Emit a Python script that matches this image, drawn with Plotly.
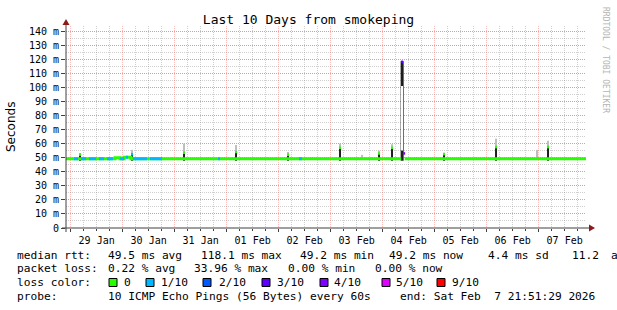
import plotly.graph_objects as go

START = "2026-01-28 21:51:29"
END = "2026-02-07 21:51:29"

# ---------------- data ----------------
# median rtt (ms) baseline, step line; None = no data
median_times = [START, "2026-01-29 20:30", "2026-01-29 22:50", "2026-01-30 00:40",
                "2026-01-30 03:50", "2026-02-04 08:35", "2026-02-04 08:36",
                "2026-02-04 10:10", END]
median_vals = [49.2, 50.0, 49.2, 50.3, 49.2, 49.2, None, 49.2, 49.2]

# stretches where the median was drawn with 1/10 loss colour
blue_starts = ["2026-01-29 01:33", "2026-01-29 04:46", "2026-01-29 08:28", "2026-01-29 13:05",
               "2026-01-29 16:46", "2026-01-29 22:50", "2026-01-30 01:30", "2026-01-30 04:46",
               "2026-01-30 12:37", "2026-01-31 20:00", "2026-02-02 09:23"]
blue_ends = ["2026-01-29 03:24", "2026-01-29 07:05", "2026-01-29 11:42", "2026-01-29 15:23",
             "2026-01-29 19:32", "2026-01-30 00:40", "2026-01-30 02:30", "2026-01-30 11:14",
             "2026-01-30 18:09", "2026-01-31 20:55", "2026-02-02 10:46"]
blue_vals = [49.2, 49.2, 49.2, 49.2, 49.2, 49.2, 50.3, 49.2, 49.2, 49.2, 49.2]

# smoke spikes
spike_times = ["2026-01-29 04:20", "2026-01-30 04:20", "2026-01-31 04:20", "2026-02-01 04:20",
               "2026-02-02 04:20", "2026-02-03 04:20", "2026-02-03 14:30", "2026-02-03 22:20",
               "2026-02-04 04:20", "2026-02-05 04:20", "2026-02-06 04:20", "2026-02-06 23:15",
               "2026-02-07 04:20"]
smoke_hi = [53.0, 55.5, 60.0, 59.0, 54.0, 60.0, 52.0, 55.0, 59.5, 53.5, 63.5, 55.5, 62.0]
dark_hi = [51.5, 52.5, 53.5, 54.5, 52.0, 56.5, None, 52.5, 57.0, 52.0, 58.0, None, 58.3]
spike_median = [52.3, 52.5, 53.5, 54.0, 52.0, 57.0, None, 53.0, 57.0, 52.5, 57.5, None, 57.5]
spike_loss = [0, 1, 0, 0, 0, 0, None, 0, 0, 0, 0, None, 0]

# the large outage spike on 04 Feb
big_time = "2026-02-04 09:00"
big_top = 118.6
big_hollow = (55.0, 101.0)
big_medians_t = ["2026-02-04 09:00", "2026-02-04 09:55"]
big_medians_v = [118.1, 53.0]
big_medians_loss = [3, 4]

loss_labels = ["0", "1/10", "2/10", "3/10", "4/10", "5/10", "9/10"]
loss_colors = ["#26ff00", "#00b8ff", "#0059ff", "#5e00ff", "#7e00ff", "#dd00ff", "#ff0000"]

rtt_parts = ["49.5 ms avg", "118.1 ms max", "49.2 ms min", "49.2 ms now", "4.4 ms sd", "11.2", "a"]
loss_parts = ["0.22 % avg", "33.96 % max", "0.00 % min", "0.00 % now"]

y_ticks = list(range(0, 141, 10))
y_text = ["0"] + [f"{v} m" for v in y_ticks[1:]]

MONO = "DejaVu Sans Mono"
PXMS = 240 * 3600 * 1000 / 520  # ms per pixel column

# ---------------- geometry helpers ----------------
L, R, T, B = 66, 31, 26, 82
W, H = 617 - L - R, 310 - T - B
def px(x):
    return (x - L) / W
def py(y):
    return (T + H - y) / H

fig = go.Figure()

# light smoke
fig.add_trace(go.Bar(x=spike_times, y=[h - 48.8 for h in smoke_hi], base=[48.8] * len(smoke_hi),
                     width=[2 * PXMS] * len(spike_times), marker=dict(color="#bdbdbd", line=dict(width=0)),
                     hoverinfo="skip"))

# median baseline
fig.add_trace(go.Scatter(x=median_times, y=median_vals, mode="lines", line=dict(color=loss_colors[0], width=3, shape="hv"),
                         connectgaps=False, hoverinfo="skip"))
bx, by = [], []
for s, e, v in zip(blue_starts, blue_ends, blue_vals):
    bx += [s, e, None]
    by += [v, v, None]
fig.add_trace(go.Scatter(x=bx, y=by, mode="lines", line=dict(color=loss_colors[1], width=3),
                         connectgaps=False, hoverinfo="skip"))

# dark smoke
dt = [t for t, d in zip(spike_times, dark_hi) if d is not None]
dv = [d for d in dark_hi if d is not None]
fig.add_trace(go.Bar(x=dt, y=[d - 47.8 for d in dv], base=[47.8] * len(dv), width=[2 * PXMS] * len(dt),
                     marker=dict(color="#1e1e1e", line=dict(width=0)), hoverinfo="skip"))
fig.add_trace(go.Bar(x=[big_time], y=[big_top - 47.8], base=[47.8], width=[3 * PXMS],
                     marker=dict(color="#1e1e1e", line=dict(width=0)), hoverinfo="skip"))
fig.add_trace(go.Bar(x=[big_time], y=[big_hollow[1] - big_hollow[0]], base=[big_hollow[0]], width=[1 * PXMS],
                     marker=dict(color="#ffffff", line=dict(width=0)), hoverinfo="skip"))

# spike medians coloured by loss
mt = [t for t, m in zip(spike_times, spike_median) if m is not None] + big_medians_t
mv = [m for m in spike_median if m is not None] + big_medians_v
ml = [l for l in spike_loss if l is not None] + big_medians_loss
fig.add_trace(go.Bar(x=mt, y=[1.8] * len(mv), base=[m - 0.9 for m in mv], width=[2 * PXMS] * len(mt),
                     marker=dict(color=[loss_colors[i] for i in ml], line=dict(width=0)), hoverinfo="skip"))

red_grid = "rgba(255,0,0,0.25)"
grey_grid = "rgba(120,120,120,0.35)"

fig.update_layout(
    width=617, height=310, margin=dict(l=L, r=R, t=T, b=B),
    paper_bgcolor="white", plot_bgcolor="white", showlegend=False, barmode="overlay",
    title=dict(text="Last 10 Days from smokeping", x=0.5, xanchor="center", y=1 - 19 / 310, yanchor="middle",
               font=dict(family=MONO, size=13, color="black")),
    xaxis=dict(type="date", range=[START, END], tick0="2026-01-29", dtick=86400000, tickformat="%d %b",
               ticklabelmode="period", showgrid=True, gridcolor=red_grid, griddash="1px,1px", gridwidth=1,
               ticks="outside", ticklen=3, tickcolor="#404040", zeroline=False, showline=False,
               tickfont=dict(family=MONO, size=10, color="black"),
               minor=dict(dtick=21600000, tick0="2026-01-29", showgrid=True, gridcolor=grey_grid,
                          griddash="1px,1px", ticks="outside", ticklen=2, tickcolor="#404040")),
    yaxis=dict(range=[0, 143.55], tickmode="array", tickvals=y_ticks, ticktext=y_text, showgrid=True,
               gridcolor=red_grid, griddash="1px,1px", gridwidth=1, ticks="outside", ticklen=4,
               tickcolor="#404040", zeroline=False, showline=False,
               tickfont=dict(family=MONO, size=10, color="black"),
               minor=dict(tickmode="linear", tick0=0, dtick=5, showgrid=True, gridcolor=grey_grid,
                          griddash="1px,1px")),
)

shapes = []
# axes
shapes.append(dict(type="line", xref="paper", yref="paper", x0=px(62), x1=px(590), y0=0, y1=0,
                   line=dict(color="#404040", width=1)))
shapes.append(dict(type="line", xref="paper", yref="paper", x0=0, x1=0, y0=py(232), y1=py(24),
                   line=dict(color="#404040", width=1)))
shapes.append(dict(type="path", xref="paper", yref="paper",
                   path=f"M {px(595)} {py(228)} L {px(589)} {py(224.5)} L {px(589)} {py(231.5)} Z",
                   fillcolor="#8b1a1a", line=dict(width=0)))
shapes.append(dict(type="path", xref="paper", yref="paper",
                   path=f"M {px(66)} {py(19)} L {px(62.5)} {py(25)} L {px(69.5)} {py(25)} Z",
                   fillcolor="#8b1a1a", line=dict(width=0)))

ann = []
LS = 11.2
def text(x, y, s, size=LS, color="black", family=MONO, angle=0, xanchor="left"):
    ann.append(dict(x=px(x), y=py(y), xref="paper", yref="paper", text=s, showarrow=False,
                    xanchor=xanchor, yanchor="middle", textangle=angle, borderpad=0,
                    font=dict(family=family, size=size, color=color)))

text(11, 127, "Seconds", size=12, family="DejaVu Sans", angle=-90, xanchor="center")
text(606, 60, "RRDTOOL / TOBI OETIKER", size=8, color="#b4b4b4", angle=90, xanchor="center")

rows = [255, 268.5, 282.5, 296.5]
text(16, rows[0], "median rtt:")
rtt_x = [107, 200, 299, 388, 487, 571, 610]
for xx, s in zip(rtt_x, rtt_parts):
    text(xx, rows[0], s)
text(16, rows[1], "packet loss:")
loss_x = [107, 193, 287, 374]
for xx, s in zip(loss_x, loss_parts):
    text(xx, rows[1], s)
text(16, rows[2], "loss color:")
sq_x = [109, 146, 203, 262, 320, 382, 437]
lab_x = [123, 160, 218, 276, 333, 395, 451]
for sx, lx, lab, col in zip(sq_x, lab_x, loss_labels, loss_colors):
    shapes.append(dict(type="rect", xref="paper", yref="paper", x0=px(sx), x1=px(sx + 8),
                       y0=py(286.5), y1=py(278.5), fillcolor=col, line=dict(color="black", width=1)))
    text(lx, rows[2], lab)
text(16, rows[3], "probe:")
text(107, rows[3], "10 ICMP Echo Pings (56 Bytes) every 60s")
text(399, rows[3], "end: Sat Feb  7 21:51:29 2026")

fig.update_layout(shapes=shapes, annotations=ann)
fig.write_html("out.html")
